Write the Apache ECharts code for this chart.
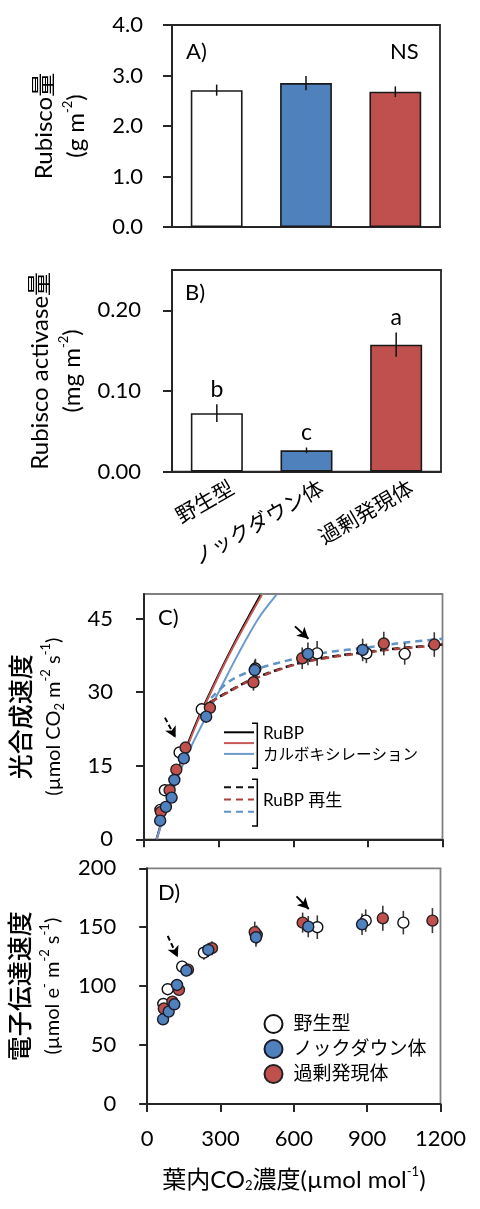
<!DOCTYPE html>
<html><head><meta charset="utf-8">
<script src="https://cdn.jsdelivr.net/npm/echarts@6/dist/echarts.min.js"></script>
<style>html,body{margin:0;padding:0;background:#fff}#c{width:480px;height:1209px}</style>
</head><body><div id="c"></div>
<script>
// ---------- data ----------
const genotypes = ['野生型', 'ノックダウン体', '過剰発現体'];
const rubiscoAmount = [2.71, 2.85, 2.68];
const rubiscoErr = [0.11, 0.14, 0.105];
const rcaAmount = [0.0725, 0.0265, 0.1575];
const rcaErr = [0.011, 0.0035, 0.015];
const rcaLetters = ['b', 'c', 'a'];
const rubiscoNote = 'NS';

const yTicksA = [0, 1, 2, 3, 4];
const yTicksB = [0, 0.1, 0.2];
const yTicksC = [0, 15, 30, 45];
const yTicksD = [0, 50, 100, 150, 200];
const xTicksCi = [0, 300, 600, 900, 1200];

// wild type
const wtCi  = [66, 84, 143, 232, 448, 696, 894, 1048];
const wtA   = [6.0, 10.0, 17.7, 26.5, 34.8, 37.9, 37.9, 37.8];
const wtAErr= [0.8, 0.9, 1.0, 1.3, 2.0, 2.5, 2.0, 2.2];
const wtJ   = [84.9, 97.4, 116.6, 128.4, 143.5, 150.0, 155.6, 153.9];
const wtJErr= [4, 4.5, 5, 6, 8, 10, 9.5, 10];
// knockdown
const kdCi  = [65, 88, 111, 122, 160, 250, 445, 659, 879];
const kdA   = [3.8, 6.6, 8.5, 12.1, 16.5, 25.0, 34.5, 37.8, 38.6];
const kdAErr= [0.6, 0.7, 0.8, 0.9, 1.0, 1.3, 2.0, 2.3, 2.3];
const kdJ   = [71.9, 78.4, 84.6, 101.0, 113.2, 130.7, 141.5, 150.5, 152.5];
const kdJErr= [3.5, 4, 4, 4.5, 5, 6, 8, 9, 9.2];
// overexpression
const oxCi  = [68, 103, 130, 167, 265, 440, 636, 964, 1167];
const oxA   = [5.6, 10.0, 14.2, 18.7, 26.8, 32.0, 36.9, 39.9, 39.7];
const oxAErr= [0.7, 0.8, 0.9, 1.0, 1.3, 1.7, 2.2, 2.4, 2.5];
const oxJ   = [81.0, 86.9, 96.8, 114.0, 132.2, 145.8, 153.9, 157.6, 155.6];
const oxJErr= [4, 4, 4.5, 5, 6, 9, 8.5, 10.6, 10.6];

// model curves: RuBP carboxylation (solid)
const acCiWT = [50, 100, 150, 212, 299, 366, 433, 468];
const acWT   = [0, 8.6, 16.0, 24.0, 33.5, 40.3, 46.6, 49.8];
const acCiOX = [52, 100, 150, 215, 302, 370, 438, 474];
const acOX   = [0, 8.2, 15.6, 24.0, 33.5, 40.3, 46.6, 49.8];
const acCiKD = [50, 100, 158, 200, 245, 312, 379, 460, 532];
const acKD   = [0, 7.6, 15.4, 20.0, 24.5, 31.2, 37.8, 45.0, 49.8];
// RuBP regeneration (dashed)
const ajCiWT = [264, 346, 420, 500, 614, 748, 882, 1016, 1200];
const ajWT   = [27.9, 30.3, 32.3, 33.9, 35.8, 37.2, 38.1, 38.9, 39.7];
const ajCiOX = [270, 346, 420, 500, 614, 748, 882, 1016, 1200];
const ajOX   = [28.0, 30.2, 32.2, 33.8, 35.7, 37.1, 38.0, 38.8, 39.6];
const ajCiKD = [270, 346, 446, 614, 748, 882, 1016, 1200];
const ajKD   = [28.8, 32.3, 34.6, 36.9, 38.2, 39.0, 39.9, 40.9];

// annotation arrows (data coordinates: [Ci, value])
const arrowsC = [
  { from: [607, 43.4], to: [661, 40.9], type: 'solid' },
  { from: [84, 24.8],  to: [127, 20.7], type: 'dashed' }
];
const arrowsD = [
  { from: [611, 176.2], to: [661, 165.5], type: 'solid' },
  { from: [84, 142.6],  to: [125, 124.5], type: 'dashed' }
];

// ---------- styles ----------
const FONT = "Lato, 'Noto Sans CJK JP', sans-serif";
const BLUE = '#4f81bd', RED = '#c0504d';
const barColors = ['#ffffff', BLUE, RED];
const zip = (a, b) => a.map((v, i) => [v, b[i]]);
const zip3 = (a, b, c) => a.map((v, i) => [v, b[i], c[i]]);

const chart = echarts.init(document.getElementById('c'), null, { renderer: 'canvas' });

const axisLineDark = { show: true, lineStyle: { color: '#262626', width: 2 } };
const tickOut = { show: true, inside: false, length: 8, lineStyle: { color: '#262626', width: 2 } };
const lblY = { color: '#000', fontSize: 22, fontFamily: FONT };

function richName(big, small, bigWeight) {
  return {
    fontFamily: FONT, color: '#000',
    rich: {
      t: { fontSize: big, lineHeight: 32, fontFamily: FONT, color: '#000', fontWeight: bigWeight || 'normal' },
      u: { fontSize: small, lineHeight: 32, fontFamily: FONT, color: '#000' },
      sup: { fontSize: 13, lineHeight: 13, padding: [0, 0, 16, 0], fontFamily: FONT, color: '#000' },
      sub: { fontSize: 13, lineHeight: 13, padding: [12, 0, 0, 0], fontFamily: FONT, color: '#000' }
    }
  };
}

function errRender(params, api) {
  const x = api.value(0), y = api.value(1), e = api.value(2);
  const p1 = api.coord([x, y - e]), p2 = api.coord([x, y + e]);
  return { type: 'line', shape: { x1: p1[0], y1: p1[1], x2: p2[0], y2: p2[1] },
           style: { stroke: '#3a3a3a', lineWidth: 1.6 } };
}
function barErrRender(letters) {
  return function (params, api) {
    const x = api.value(0), y = api.value(1), e = api.value(2);
    const p1 = api.coord([x, y - e]), p2 = api.coord([x, y + e]);
    const children = [{ type: 'line', shape: { x1: p1[0], y1: p1[1], x2: p2[0], y2: p2[1] },
                        style: { stroke: '#111', lineWidth: 1.5 } }];
    if (letters) {
      children.push({ type: 'text', style: { text: letters[params.dataIndex], x: p2[0], y: p2[1] - 3,
        align: 'center', verticalAlign: 'bottom', fontSize: 23, fontFamily: FONT, fill: '#000' } });
    }
    return { type: 'group', children };
  };
}
function arrowMark(list) {
  return {
    silent: true, symbol: ['none', 'arrow'], symbolSize: [9, 11], label: { show: false },
    data: list.map(a => [
      { coord: a.from, lineStyle: { type: a.type === 'dashed' ? [5, 3] : 'solid', color: '#000', width: 2 } },
      { coord: a.to }
    ])
  };
}

const option = {
  animation: false,
  backgroundColor: '#fff',
  textStyle: { fontFamily: FONT },
  grid: [
    { left: 172, top: 25, width: 268, height: 202, show: true, borderColor: '#262626', borderWidth: 1.8 },
    { left: 172, top: 270, width: 269, height: 201.7, show: true, borderColor: '#262626', borderWidth: 1.8 },
    { left: 144, top: 594, width: 298.5, height: 245.3, show: true, borderColor: '#808080', borderWidth: 1.8 },
    { left: 144, top: 868.3, width: 296.5, height: 235.7, show: true, borderColor: '#808080', borderWidth: 1.8 }
  ],
  xAxis: [
    { type: 'category', gridIndex: 0, data: genotypes, axisLine: axisLineDark, axisTick: { show: false },
      axisLabel: { show: false }, splitLine: { show: false } },
    { type: 'category', gridIndex: 1, data: genotypes, axisLine: axisLineDark, axisTick: { show: false },
      axisLabel: { rotate: 30, margin: 24, fontSize: 21, color: '#000', fontFamily: FONT, interval: 0,
                   padding: [0, -18, 0, 0] },
      splitLine: { show: false } },
    { type: 'value', gridIndex: 2, min: 0, max: 1200, interval: 300, axisLine: axisLineDark,
      axisTick: tickOut, axisLabel: { show: false }, splitLine: { show: false } },
    { type: 'value', gridIndex: 3, min: 0, max: 1200, interval: 300, axisLine: axisLineDark,
      axisTick: tickOut, axisLabel: { ...lblY, margin: 24, formatter: v => String(v) }, splitLine: { show: false },
      name: '{t|葉内CO}{sub|2}{t|濃度(µmol mol}{sup|-1}{t|)}', nameLocation: 'middle', nameGap: 60,
      nameTextStyle: richName(24, 24) }
  ],
  yAxis: [
    { type: 'value', gridIndex: 0, min: 0, max: 4, interval: 1, axisLine: axisLineDark,
      axisTick: { ...tickOut, length: 9 }, splitLine: { show: false },
      axisLabel: { ...lblY, margin: 29, formatter: v => v.toFixed(1) },
      name: '{t|Rubisco量}\n{t|(g m}{sup|-2}{t|)}', nameLocation: 'middle', nameRotate: 90, nameGap: 80,
      nameTextStyle: richName(24, 24) },
    { type: 'value', gridIndex: 1, min: 0, max: 0.25, interval: 0.1, axisLine: axisLineDark,
      axisTick: { ...tickOut, length: 9, customValues: yTicksB }, splitLine: { show: false },
      axisLabel: { ...lblY, margin: 31, customValues: yTicksB, formatter: v => v.toFixed(2) },
      name: '{t|Rubisco activase量}\n{t|(mg m}{sup|-2}{t|)}', nameLocation: 'middle', nameRotate: 90, nameGap: 84,
      nameTextStyle: richName(24, 24) },
    { type: 'value', gridIndex: 2, min: 0, max: 50, interval: 15, axisLine: axisLineDark,
      axisTick: { ...tickOut, customValues: yTicksC }, splitLine: { show: false },
      axisLabel: { ...lblY, margin: 31, customValues: yTicksC },
      name: '{t|光合成速度}\n{u|(µmol CO}{sub|2}{u| m}{sup|-2}{u| s}{sup|-1}{u|)}', nameLocation: 'middle',
      nameRotate: 90, nameGap: 74, nameTextStyle: richName(25, 20, 500) },
    { type: 'value', gridIndex: 3, min: 0, max: 200, interval: 50, axisLine: axisLineDark,
      axisTick: tickOut, splitLine: { show: false },
      axisLabel: { ...lblY, margin: 31 },
      name: '{t|電子伝達速度}\n{u|(µmol e}{sup|-}{u| m}{sup|-2}{u| s}{sup|-1}{u|)}', nameLocation: 'middle',
      nameRotate: 90, nameGap: 74, nameTextStyle: richName(25, 20, 500) }
  ],
  legend: [
    { selectedMode: false, orient: 'vertical', left: 223, top: 728.3, itemWidth: 30, itemHeight: 10, itemGap: 2.8,
      formatter: () => '', textStyle: { fontSize: 8, lineHeight: 8 }, padding: 0, itemStyle: { opacity: 0 },
      data: ['Ac 野生型', 'Ac 過剰発現体', 'Ac ノックダウン体'] },
    { selectedMode: false, orient: 'vertical', left: 223, top: 783.3, itemWidth: 30, itemHeight: 10, itemGap: 4.2,
      formatter: () => '', textStyle: { fontSize: 8, lineHeight: 8 }, padding: 0, itemStyle: { opacity: 0 },
      data: ['Aj 野生型', 'Aj 過剰発現体', 'Aj ノックダウン体'] },
    { selectedMode: false, orient: 'vertical', left: 263.5, top: 1014, itemWidth: 18, itemHeight: 18, itemGap: 5,
      padding: 0, textStyle: { fontSize: 19, fontFamily: FONT, color: '#000', padding: [0, 0, 0, 6] },
      data: genotypes.map(n => ({ name: n, icon: 'circle' })) }
  ],
  graphic: [
    { type: 'text', x: 186, y: 52, style: { text: 'A)', fontSize: 22, fontFamily: FONT, fill: '#000', verticalAlign: 'middle' } },
    { type: 'text', x: 390, y: 52, style: { text: rubiscoNote, fontSize: 22, fontFamily: FONT, fill: '#000', verticalAlign: 'middle' } },
    { type: 'text', x: 185, y: 293, style: { text: 'B)', fontSize: 22, fontFamily: FONT, fill: '#000', verticalAlign: 'middle' } },
    { type: 'text', x: 158, y: 618, style: { text: 'C)', fontSize: 22, fontFamily: FONT, fill: '#000', verticalAlign: 'middle' } },
    { type: 'text', x: 158, y: 893, style: { text: 'D)', fontSize: 22, fontFamily: FONT, fill: '#000', verticalAlign: 'middle' } },
    { type: 'polyline', shape: { points: [[252, 723.3], [257.3, 723.3], [257.3, 768.3], [252, 768.3]] },
      style: { stroke: '#000', lineWidth: 1.5, fill: null } },
    { type: 'polyline', shape: { points: [[252, 779.3], [257.3, 779.3], [257.3, 826], [252, 826]] },
      style: { stroke: '#000', lineWidth: 1.5, fill: null } },
    { type: 'text', x: 263, y: 733.5, style: { text: 'RuBP', fontSize: 17, fontFamily: FONT, fill: '#000', verticalAlign: 'middle' } },
    { type: 'text', x: 263, y: 754.5, style: { text: 'カルボキシレーション', fontSize: 15.5, fontFamily: FONT, fill: '#000', verticalAlign: 'middle' } },
    { type: 'text', x: 263, y: 801, style: { text: 'RuBP 再生', fontSize: 17, fontFamily: FONT, fill: '#000', verticalAlign: 'middle' } }
  ],
  series: [
    // ---- A ----
    { type: 'bar', xAxisIndex: 0, yAxisIndex: 0, barWidth: '58%', z: 2,
      data: rubiscoAmount.map((v, i) => ({ value: v, itemStyle: { color: barColors[i] } })),
      itemStyle: { borderColor: '#1a1a1a', borderWidth: 1.6 } },
    { type: 'custom', xAxisIndex: 0, yAxisIndex: 0, z: 3, renderItem: barErrRender(null),
      data: zip3(genotypes.map((g, i) => i), rubiscoAmount, rubiscoErr) },
    // ---- B ----
    { type: 'bar', xAxisIndex: 1, yAxisIndex: 1, barWidth: '58%', z: 2,
      data: rcaAmount.map((v, i) => ({ value: v, itemStyle: { color: barColors[i] } })),
      itemStyle: { borderColor: '#1a1a1a', borderWidth: 1.6 } },
    { type: 'custom', xAxisIndex: 1, yAxisIndex: 1, z: 3, renderItem: barErrRender(rcaLetters),
      data: zip3(genotypes.map((g, i) => i), rcaAmount, rcaErr) },
    // ---- C: model curves ----
    { name: 'Ac 野生型', type: 'line', xAxisIndex: 2, yAxisIndex: 2, symbol: 'none', smooth: 0.3, z: 2,
      lineStyle: { color: '#000', width: 2 }, itemStyle: { color: '#000' }, data: zip(acCiWT, acWT) },
    { name: 'Ac 過剰発現体', type: 'line', xAxisIndex: 2, yAxisIndex: 2, symbol: 'none', smooth: 0.3, z: 2,
      lineStyle: { color: '#c55a57', width: 2 }, itemStyle: { color: '#c55a57' }, data: zip(acCiOX, acOX) },
    { name: 'Ac ノックダウン体', type: 'line', xAxisIndex: 2, yAxisIndex: 2, symbol: 'none', smooth: 0.3, z: 2,
      lineStyle: { color: '#6a9bcc', width: 2 }, itemStyle: { color: '#6a9bcc' }, data: zip(acCiKD, acKD) },
    { name: 'Aj 野生型', type: 'line', xAxisIndex: 2, yAxisIndex: 2, symbol: 'none', smooth: 0.3, z: 2,
      lineStyle: { color: '#111', width: 2.5, type: [7, 5] }, itemStyle: { color: '#111' }, data: zip(ajCiWT, ajWT) },
    { name: 'Aj 過剰発現体', type: 'line', xAxisIndex: 2, yAxisIndex: 2, symbol: 'none', smooth: 0.3, z: 2,
      lineStyle: { color: '#a8423f', width: 2.5, type: [7, 5] }, itemStyle: { color: '#a8423f' }, data: zip(ajCiOX, ajOX) },
    { name: 'Aj ノックダウン体', type: 'line', xAxisIndex: 2, yAxisIndex: 2, symbol: 'none', smooth: 0.3, z: 2,
      lineStyle: { color: '#5f93c6', width: 2.5, type: [7, 5] }, itemStyle: { color: '#5f93c6' }, data: zip(ajCiKD, ajKD) },
    // ---- C: error bars + points ----
    { type: 'custom', xAxisIndex: 2, yAxisIndex: 2, z: 3, renderItem: errRender, data: zip3(wtCi, wtA, wtAErr) },
    { type: 'custom', xAxisIndex: 2, yAxisIndex: 2, z: 3, renderItem: errRender, data: zip3(oxCi, oxA, oxAErr) },
    { type: 'custom', xAxisIndex: 2, yAxisIndex: 2, z: 3, renderItem: errRender, data: zip3(kdCi, kdA, kdAErr) },
    { name: genotypes[0], type: 'scatter', xAxisIndex: 2, yAxisIndex: 2, z: 4, symbolSize: 11,
      itemStyle: { color: '#fff', borderColor: '#111', borderWidth: 1.4, opacity: 1 }, data: zip(wtCi, wtA),
      markLine: arrowMark(arrowsC) },
    { name: genotypes[2], type: 'scatter', xAxisIndex: 2, yAxisIndex: 2, z: 5, symbolSize: 11,
      itemStyle: { color: RED, borderColor: '#222', borderWidth: 1.4, opacity: 1 }, data: zip(oxCi, oxA) },
    { name: genotypes[1], type: 'scatter', xAxisIndex: 2, yAxisIndex: 2, z: 6, symbolSize: 11,
      itemStyle: { color: BLUE, borderColor: '#1a1a2a', borderWidth: 1.4, opacity: 1 }, data: zip(kdCi, kdA) },
    // ---- D ----
    { type: 'custom', xAxisIndex: 3, yAxisIndex: 3, z: 3, renderItem: errRender, data: zip3(wtCi, wtJ, wtJErr) },
    { type: 'custom', xAxisIndex: 3, yAxisIndex: 3, z: 3, renderItem: errRender, data: zip3(oxCi, oxJ, oxJErr) },
    { type: 'custom', xAxisIndex: 3, yAxisIndex: 3, z: 3, renderItem: errRender, data: zip3(kdCi, kdJ, kdJErr) },
    { name: genotypes[0], type: 'scatter', xAxisIndex: 3, yAxisIndex: 3, z: 4, symbolSize: 11,
      itemStyle: { color: '#fff', borderColor: '#111', borderWidth: 1.4, opacity: 1 }, data: zip(wtCi, wtJ),
      markLine: arrowMark(arrowsD) },
    { name: genotypes[2], type: 'scatter', xAxisIndex: 3, yAxisIndex: 3, z: 5, symbolSize: 11,
      itemStyle: { color: RED, borderColor: '#222', borderWidth: 1.4, opacity: 1 }, data: zip(oxCi, oxJ) },
    { name: genotypes[1], type: 'scatter', xAxisIndex: 3, yAxisIndex: 3, z: 6, symbolSize: 11,
      itemStyle: { color: BLUE, borderColor: '#1a1a2a', borderWidth: 1.4, opacity: 1 }, data: zip(kdCi, kdJ) }
  ]
};
chart.setOption(option);
</script>
</body></html>
